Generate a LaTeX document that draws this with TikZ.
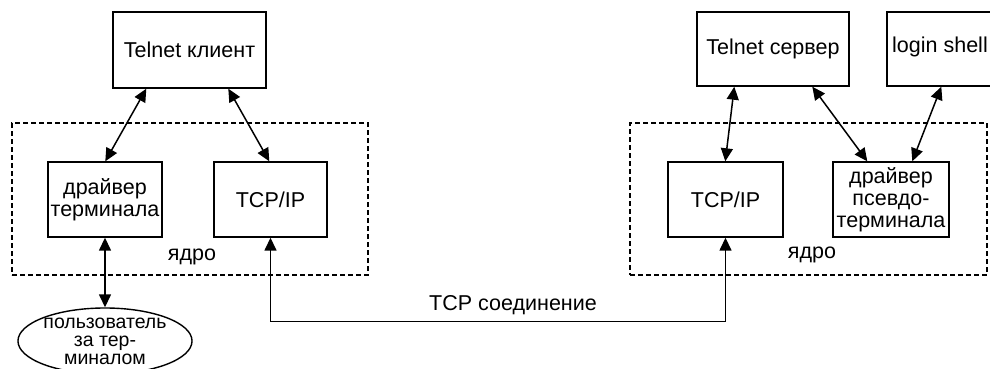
\documentclass[tikz,border=0pt]{standalone}
\usepackage{fontspec}
\setmainfont{Liberation Sans}
\usetikzlibrary{arrows.meta,shapes.geometric,calc}
\begin{document}
\begin{tikzpicture}[x=1pt,y=-1pt,
  every node/.style={font=\fontsize{21.5}{22}\selectfont},
  box/.style={draw,line width=1.4pt,rectangle,inner sep=0pt,align=center},
  kern/.style={draw,line width=1.3pt,dash pattern=on 5pt off 3pt},
  conn/.style={line width=1.5pt,{Triangle[length=13pt,width=12pt]}-{Triangle[length=13pt,width=12pt]}}]
\useasboundingbox (0,0) rectangle (990,369);
\clip (0,0) rectangle (990,369);
% kernels
\node[kern,minimum width=356pt,minimum height=152pt] (kL) at (190,199) {};
\node[kern,minimum width=357pt,minimum height=152pt] (kR) at (808.5,199) {};
\node (yL) at (192,257) {ядро};
\node (yR) at (812,255) {ядро};
% boxes
\node[box,minimum width=153pt,minimum height=76pt] (tc) at (189.5,50) {Telnet клиент};
\node[box,minimum width=114pt,minimum height=75pt] (drv) at (105,199.5) {драйвер\\терминала};
\node[box,minimum width=113pt,minimum height=75pt] (tcpL) at (270.5,199.5) {TCP/IP};
\node[box,minimum width=152pt,minimum height=74pt] (ts) at (773,49) {Telnet сервер};
\node[box,minimum width=158pt,minimum height=74pt] (ls) at (966,49) {};
\node[anchor=west,inner sep=0pt] (lst) at (892,47) {login shell};
\node[box,minimum width=115pt,minimum height=75pt] (tcpR) at (725.5,199.5) {TCP/IP};
\node[box,minimum width=116pt,minimum height=75pt] (pty) at (891,199.5) {драйвер\\псевдо-\\терминала};
\node[draw,line width=1.4pt,ellipse,minimum width=157pt,minimum height=58pt,inner sep=0pt,align=center,
  font=\fontsize{19.5}{18}\selectfont] (usr) at (105,341) {пользователь\\за тер-\\миналом};
% connectors
\draw[conn] ($(tc.south west)+(34,0)$) -- ($(drv.north west)+(58,0)$);
\draw[conn] ($(tc.south west)+(116,0)$) -- ($(tcpL.north west)+(56,0)$);
\draw[conn] (drv.south) -- (usr.north);
\draw[conn] (tcpL.south) -- ++(0,84) coordinate (c1) -| (tcpR.south);
\node (tcpc) at (513,305) {TCP соединение};
\draw[conn] ($(ts.south west)+(38,0)$) -- ($(tcpR.north west)+(58,0)$);
\draw[conn] ($(ts.south west)+(116,0)$) -- ($(pty.north west)+(35,0)$);
\draw[conn] ($(ls.south west)+(55,0)$) -- ($(pty.north west)+(80,0)$);
\end{tikzpicture}
\end{document}
